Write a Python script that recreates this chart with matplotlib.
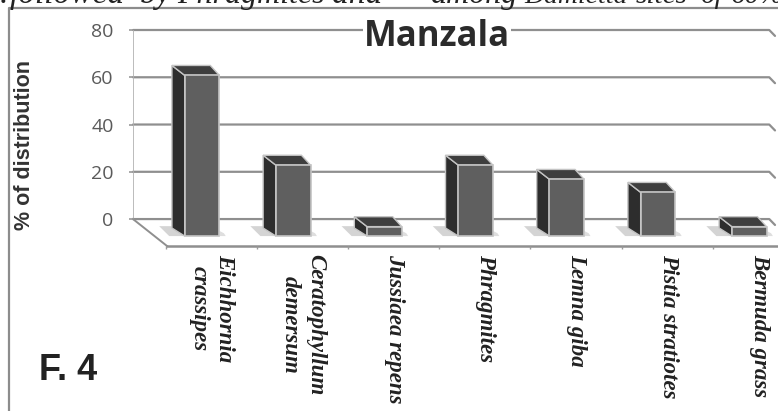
import numpy as np
import matplotlib
matplotlib.use("Agg")
from matplotlib import pyplot as plt
from matplotlib.patches import Polygon
from matplotlib.lines import Line2D

# Values
species = ["Eichhornia\ncrassipes", "Ceratophyllum\ndemersum", "Jussiaea repens",
           "Phragmites", "Lemna giba", "Pistia stratiotes", "Bermuda grass"]
distribution = [68, 30, 4, 30, 24, 18.5, 4]
y_ticks = [0, 20, 40, 60, 80]
top_words = [".", "followed", "by", "Phragmites", "and", "among", "Damietta", "sites", "of", "60%"]
top_word_px = [0, 10, 140, 177, 332, 430, 524, 636, 700, 731]
top_word_size = [24, 24, 24, 23, 24, 23, 20, 21, 21, 21]

W, H = 778, 411
fig = plt.figure(figsize=(W / 100, H / 100), dpi=100)


# pixel box -> figure fraction
def box(x0, y0, x1, y1):
    return [x0 / W, 1 - y1 / H, (x1 - x0) / W, (y1 - y0) / H]


# Axes is the back wall plus the floor below it
ax = fig.add_axes(box(133, 30, 775, 246))
ax.set_xlim(-0.757, 6.283)
ax.set_ylim(-11.4, 80)
for s in ax.spines.values():
    s.set_visible(False)

front = -7.2   # value where the front of the bars sits
depth_x = -0.14
depth_xr = -0.1
depth_y = 4.2
grid_c = "#8f8f8f"
x = np.arange(len(species))

# wall gridlines, bent at the right hand corner
for v in y_ticks:
    ax.plot([-0.757, 6.22, 6.283], [v, v, v - 2.5], color=grid_c, lw=1.6,
            clip_on=False, zorder=1, solid_capstyle="round")
ax.plot([-0.757, -0.757], [0, 80], color="#b0b0b0", lw=1.2, zorder=1)
# floor edges
ax.plot([-0.757, -0.384], [0, -11.4], color=grid_c, lw=1.4, clip_on=False, zorder=1)
ax.plot([-0.384, 6.32], [-11.4, -11.4], color=grid_c, lw=1.8, clip_on=False, zorder=1)

# shadows on the floor
width = 0.38
for xi in x:
    ax.add_patch(Polygon([(xi - width / 2 - 0.28, -3), (xi - width / 2 - 0.1, -3),
                          (xi - width / 2, front), (xi - width / 2 - 0.17, front)],
                         fc="#d4d4d4", ec="none", zorder=2))
    ax.add_patch(Polygon([(xi + width / 2, -5), (xi + width / 2 + 0.05, -6),
                          (xi + width / 2 + 0.07, front), (xi + width / 2, front)],
                         fc="#dedede", ec="none", zorder=2))

# bars: front face from the library, side and top faces on the same scale
bars = ax.bar(x, distribution, width=width, bottom=front, color="#5f5f5f",
              edgecolor="#c4c4c4", linewidth=1.2, zorder=4)
for xi, v in zip(x, distribution):
    top = front + v
    l, r = xi - width / 2, xi + width / 2
    ax.add_patch(Polygon([(l, front), (l, top), (l + depth_x, top + depth_y),
                          (l + depth_x, front + 3.4)],
                         fc="#2d2d2d", ec="#c4c4c4", lw=1.0, zorder=3))
    ax.add_patch(Polygon([(l, top), (r, top), (r + depth_xr, top + depth_y),
                          (l + depth_x, top + depth_y)],
                         fc="#3e3e3e", ec="#c4c4c4", lw=1.0, zorder=3))

# y axis
ax.set_yticks(y_ticks)
ax.tick_params(axis="y", length=3, width=1.2, color="#9a9a9a", pad=11,
               labelsize=14, labelcolor="#5a5a5a")
for t in ax.get_yticklabels():
    t.set_family("Open Sans")
ax.set_ylabel("% of distribution", fontsize=15.5, family="Liberation Sans",
              fontweight="bold", color="#333333", labelpad=0)
ax.yaxis.set_label_coords((35 - 133) / 642, (246 - 145) / 216)

# x axis: labels sit a little right of the bars, ticks between the bars
ax.set_xticks(x + 0.11)
ax.set_xticklabels(species, rotation=270, ha="center", va="top", fontsize=16.5,
                   family="Liberation Serif", style="italic", fontweight="bold",
                   color="#222222", linespacing=1.3, rotation_mode="default")
ax.set_xticks(x - 0.4, minor=True)
ax.tick_params(axis="x", which="major", length=0, pad=6)
ax.tick_params(axis="x", which="minor", length=2, width=1, color="#9a9a9a")

ax.set_title("Manzala", family="Open Sans", fontweight="bold", fontsize=25,
             color="#2b2b2b", x=(437 - 133) / 642, y=0.93, va="center",
             bbox=dict(fc="white", ec="none", pad=0.5))
ax.title.set_zorder(6)

fig.text(39 / W, 1 - 380 / H, "F. 4", family="Liberation Sans", fontweight="bold",
         fontsize=26, color="#222222")

# page frame around the chart
fig.add_artist(Line2D([9 / W, 9 / W, 1], [0, 1 - 8 / H, 1 - 8 / H], color="#8c8c8c", lw=1.6))

# running text of the paper, cut off by the top edge
for word, px, size in zip(top_words, top_word_px, top_word_size):
    fig.text(px / W, 1 - 3 / H, word, family="Liberation Serif", style="italic",
             fontsize=size, color="#222222")

fig.savefig("out.png", dpi=100)
